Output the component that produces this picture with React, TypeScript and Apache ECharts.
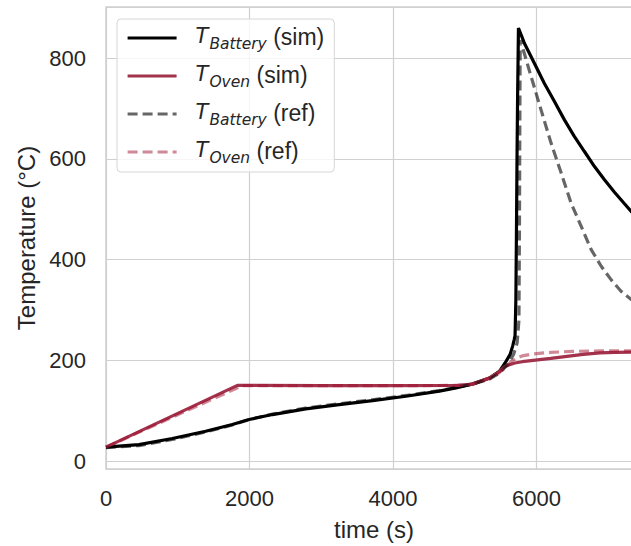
import React, { useEffect, useRef } from "react";
import * as echarts from "echarts";

// Battery temperature, simulated (s, °C)
const batterySimTime = [
  0, 458, 924, 1389, 1761, 1993, 2320, 2784, 3249, 3715, 4180, 4645, 4878, 5111, 5343, 5483, 5562,
  5632, 5670, 5690, 5701, 5712, 5720, 5728, 5736, 5743, 5748, 5790, 5831, 5970, 6110, 6250, 6389,
  6529, 6668, 6808, 6947, 7087, 7226, 7320, 7470,
];
const batterySimTemp = [
  28, 33, 45, 59.5, 72.8, 82.7, 92.6, 104, 112.4, 120.4, 129, 139, 145.6, 153.5, 165, 178.5, 195,
  212, 230, 242, 250, 320, 450, 600, 720, 800, 860, 845, 829.7, 790, 750, 714, 677.6, 644.5, 614.8,
  585, 558.6, 534, 511, 495.8, 476,
];

// Oven temperature, simulated
const ovenSimTime = [
  0, 1831, 3000, 4000, 4900, 5111, 5343, 5483, 5562, 5632, 5700, 5800, 5953, 6200, 6423, 6650, 6888,
  7100, 7320, 7470,
];
const ovenSimTemp = [
  28, 150.5, 150, 150, 150.5, 153, 165, 178, 188, 192, 195, 197.5, 200, 204, 208, 212, 215, 216,
  216.5, 217,
];

// Battery temperature, reference
const batteryRefTime = [
  0, 458, 924, 1389, 1761, 1993, 2320, 2784, 3249, 3715, 4180, 4645, 4878, 5111, 5343, 5483, 5600,
  5680, 5730, 5755, 5762, 5767, 5771, 5775, 5925, 6064, 6204, 6344, 6483, 6623, 6762, 6902, 7041,
  7181, 7320, 7470,
];
const batteryRefTemp = [
  27, 31, 43, 58, 72, 82.5, 93.5, 105.5, 114, 122, 130.5, 140, 146.5, 153, 163, 175, 192, 212, 235,
  280, 450, 650, 790, 836, 763.5, 697, 631, 572, 512, 466, 420, 387, 360, 337, 321, 305,
];

// Oven temperature, reference
const ovenRefTime = [
  0, 1900, 3000, 4000, 5000, 5111, 5343, 5483, 5580, 5650, 5720, 5800, 5950, 6200, 6500, 6900, 7320,
  7470,
];
const ovenRefTemp = [
  28, 150, 150, 150, 150.5, 153, 164, 176, 188, 198, 205, 209, 213, 216, 218, 219, 219, 219,
];

const seriesNames = ["T_Battery (sim)", "T_Oven (sim)", "T_Battery (ref)", "T_Oven (ref)"];
const seriesColors = ["#000000", "#a3324d", "rgba(0,0,0,0.6)", "rgba(162,20,47,0.5)"];

const xTickStep = 2000;
const yTickStep = 200;

const TEXT = "#262626";
const SANS = "'Liberation Sans', Arial, sans-serif";
const MATH = "'DejaVu Sans', sans-serif";

const pairs = (t: number[], v: number[]) => t.map((x, i) => [x, v[i]]);

export default function App() {
  const ref = useRef<HTMLDivElement>(null);

  useEffect(() => {
    if (!ref.current) return;
    const chart = echarts.init(ref.current, null, { renderer: "svg" });

    const datasets = [
      pairs(batterySimTime, batterySimTemp),
      pairs(ovenSimTime, ovenSimTemp),
      pairs(batteryRefTime, batteryRefTemp),
      pairs(ovenRefTime, ovenRefTemp),
    ];

    chart.setOption({
      animation: false,
      backgroundColor: "#ffffff",
      grid: {
        left: 106,
        right: 18,
        top: 7,
        bottom: 76.5,
        show: true,
        backgroundColor: "#ffffff",
        borderColor: "#cfcfcf",
        borderWidth: 1.5,
      },
      xAxis: {
        type: "value",
        min: 0,
        max: 7470,
        interval: xTickStep,
        name: "time (s)",
        nameLocation: "middle",
        nameGap: 48,
        nameTextStyle: { fontFamily: SANS, fontSize: 24, color: TEXT },
        axisLine: { show: false },
        axisTick: { show: false },
        axisLabel: {
          margin: 18,
          fontFamily: SANS,
          fontSize: 22,
          color: TEXT,
          formatter: (v: number) => (v % xTickStep === 0 ? String(v) : ""),
        },
        splitLine: { show: true, lineStyle: { color: "#d0d0d0", width: 1.2 } },
      },
      yAxis: {
        type: "value",
        min: -15.5,
        max: 901.7,
        splitNumber: 5,
        name: "Temperature (°C)",
        nameLocation: "middle",
        nameGap: 68,
        nameTextStyle: { fontFamily: SANS, fontSize: 24, color: TEXT },
        axisLine: { show: false },
        axisTick: { show: false },
        axisLabel: {
          margin: 20,
          fontFamily: SANS,
          fontSize: 22,
          color: TEXT,
          formatter: (v: number) => (Math.abs(v % yTickStep) < 1e-6 ? String(v) : ""),
        },
        splitLine: { show: true, lineStyle: { color: "#d0d0d0", width: 1.2 } },
      },
      legend: {
        orient: "vertical",
        left: 117,
        top: 19,
        padding: [6, 10, 6, 9],
        itemGap: 11,
        itemWidth: 49,
        itemHeight: 14,
        selectedMode: false,
        backgroundColor: "rgba(255,255,255,0.8)",
        borderColor: "#d6d6d6",
        borderWidth: 1,
        borderRadius: 4,
        data: seriesNames,
        itemStyle: { opacity: 0 },
        lineStyle: { width: 3.2 },
        formatter: (name: string) => {
          const m = name.match(/^T_(\w+) (\(.*\))$/);
          return m ? `{t|T}{s|${m[1]}}{n| ${m[2]}}` : name;
        },
        textStyle: {
          color: TEXT,
          rich: {
            t: {
              fontFamily: MATH,
              fontStyle: "italic",
              fontSize: 21,
              lineHeight: 26,
              padding: [0, 0, 0, 14],
              color: TEXT,
              verticalAlign: "top",
            },
            s: {
              fontFamily: MATH,
              fontStyle: "italic",
              fontSize: 15.5,
              lineHeight: 15,
              padding: [11, 0, 0, 1],
              color: TEXT,
              verticalAlign: "top",
            },
            n: {
              fontFamily: SANS,
              fontSize: 23,
              lineHeight: 26,
              color: TEXT,
              verticalAlign: "top",
            },
          },
        },
      },
      series: datasets.map((data, i) => ({
        name: seriesNames[i],
        type: "line",
        data,
        symbol: "none",
        clip: true,
        z: 2 + i,
        color: seriesColors[i],
        lineStyle: {
          color: seriesColors[i],
          width: 3.2,
          type: i < 2 ? "solid" : [10, 5],
        },
      })),
    });

    return () => chart.dispose();
  }, []);

  return (
    <div
      style={{
        position: "fixed",
        left: 0,
        top: 0,
        width: 631,
        height: 546,
        overflow: "hidden",
        background: "#ffffff",
      }}
    >
      <div ref={ref} style={{ width: 660, height: 546 }} />
    </div>
  );
}
